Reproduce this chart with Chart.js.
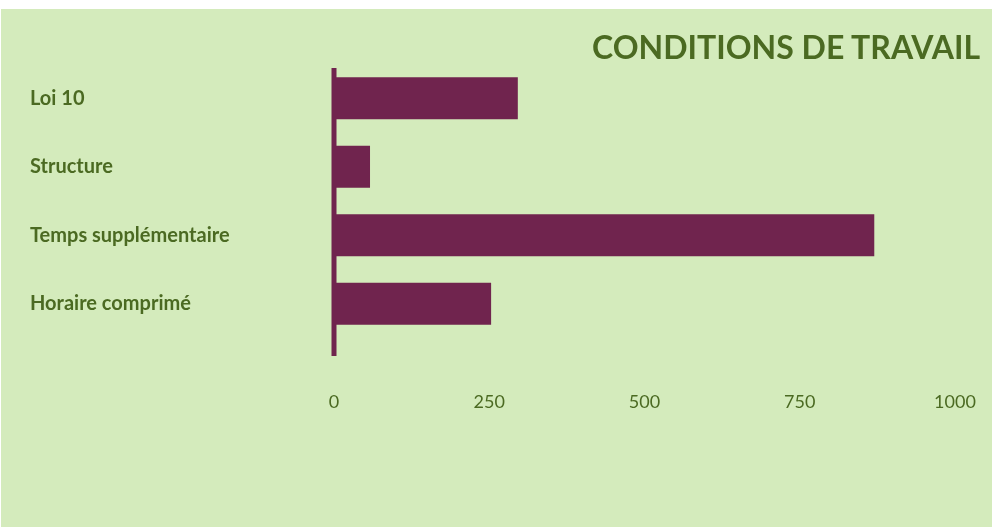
<!DOCTYPE html>
<html>
<head>
<meta charset="utf-8">
<script src="https://cdn.jsdelivr.net/npm/chart.js@4"></script>
<style>
  html, body { margin: 0; padding: 0; background: #ffffff; }
  #panel { position: absolute; left: 1px; top: 9px; width: 991px; height: 518px; background: #d4ebbc; }
  #titre { position: absolute; right: 12px; top: 22px; font: bold 32px Lato, sans-serif; color: #4b6a22; line-height: 1; white-space: nowrap; }
  canvas { position: absolute; left: 0; top: 0; }
</style>
</head>
<body>
<div id="panel">
  <canvas id="barChart" width="991" height="518"></canvas>
  <div id="titre">CONDITIONS DE TRAVAIL</div>
</div>
<script>
var categories = ['Loi 10', 'Structure', 'Temps supplémentaire', 'Horaire comprimé'];
var valeurs = [296, 58, 870, 253];
var xTicks = [0, 250, 500, 750, 1000];

var barColor = '#70244e';
var textColor = '#4b6a22';

// vertical axis line, a bit longer than the bars area (like the original)
var axisLine = {
    id: 'axisLine',
    afterDatasetsDraw: function(chart) {
        var ctx = chart.ctx;
        var x = chart.scales.x.getPixelForValue(0);
        ctx.save();
        ctx.strokeStyle = barColor;
        ctx.lineWidth = 5;
        ctx.beginPath();
        ctx.moveTo(x, chart.chartArea.top + 4);
        ctx.lineTo(x, chart.chartArea.bottom + 18);
        ctx.stroke();
        ctx.restore();
    }
};

var ctx = document.getElementById('barChart').getContext('2d');
var myBarChart = new Chart(ctx, {
    type: 'bar',
    data: {
        labels: categories,
        datasets: [{
            data: valeurs,
            backgroundColor: barColor,
            borderWidth: 0,
            categoryPercentage: 1,
            barPercentage: 0.61
        }]
    },
    options: {
        indexAxis: 'y',
        responsive: false,
        animation: false,
        layout: {
            padding: { left: 29, top: 55, right: 37, bottom: 112 }
        },
        plugins: {
            legend: { display: false },
            tooltip: { enabled: false }
        },
        scales: {
            x: {
                min: 0,
                max: 1000,
                afterBuildTicks: function(axis) {
                    axis.ticks = xTicks.map(function(v) { return { value: v }; });
                },
                afterFit: function(axis) {
                    axis.height = 77;
                    // the big tick padding is vertical only, don't eat the side room
                    axis.paddingLeft = 0;
                    axis.paddingRight = 0;
                },
                grid: { display: false, drawTicks: false },
                border: { display: false },
                ticks: {
                    padding: 53,
                    maxRotation: 0,
                    color: textColor,
                    font: { family: 'Lato', size: 18 },
                    callback: function(v) { return String(v); }
                }
            },
            y: {
                afterFit: function(axis) { axis.width = 304; },
                grid: { display: false, drawTicks: false },
                border: { display: false },
                ticks: {
                    crossAlign: 'far',
                    color: textColor,
                    font: { family: 'Lato', size: 20, weight: 'bold' }
                }
            }
        }
    },
    plugins: [axisLine]
});
</script>
</body>
</html>
